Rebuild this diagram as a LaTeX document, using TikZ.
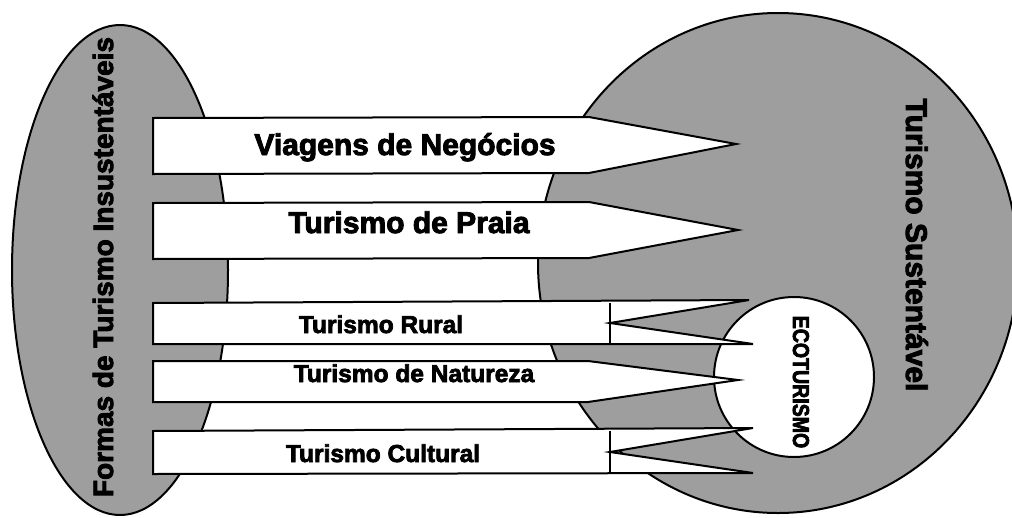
\documentclass[tikz,border=0pt]{standalone}
\usepackage{fontspec}
\setmainfont{Liberation Sans}[BoldFeatures={FakeBold=3}]
\newfontfamily\ecofont[FakeStretch=0.85,FakeBold=3]{Liberation Sans Bold}
\definecolor{shade}{RGB}{158,158,158}
\tikzset{
  blob/.style={draw=black, line width=2pt, fill=shade},
  band/.style={draw=black, line width=2pt, fill=white, line join=miter},
  bigtxt/.style={font=\bfseries\fontsize{30}{36}\selectfont, inner sep=0pt, anchor=base},
  smalltxt/.style={font=\bfseries\fontsize{24.5}{29}\selectfont, inner sep=0pt, anchor=base},
  sidetxt/.style={font=\bfseries\fontsize{28}{34}\selectfont, inner sep=0pt, anchor=base}
}
\begin{document}
\begin{tikzpicture}[x=1pt, y=-1pt]
\useasboundingbox (0,0) rectangle (1012,517);
\begin{scope}
\clip (0,0) rectangle (1012,517);
% left ellipse
\draw[blob] (120,270) ellipse [x radius=108, y radius=245];
% right big ellipse
\draw[blob] (778,263) ellipse [x radius=240, y radius=250];
\end{scope}
% ecoturismo circle
\draw[draw=black, line width=2pt, fill=white] (794,377) circle [radius=80];
% bands
\draw[band] (153,118) -- (589,117) -- (736,144) -- (589,173) -- (153,174) -- cycle;
\draw[band] (153,203) -- (589,202) -- (738,230) -- (589,258) -- (153,259) -- cycle;
\draw[band] (153,303) -- (749,300) -- (610,323) -- (753,344) -- (153,344) -- cycle;
\draw[line width=2pt] (610,303) -- (610,344);
\draw[band] (153,361) -- (588,361) -- (738,380) -- (588,402) -- (153,402) -- cycle;
\draw[band] (153,431) -- (753,428) -- (610,452) -- (753,473) -- (153,474) -- cycle;
\draw[line width=2pt] (610,431) -- (610,474);
% texts
\node[bigtxt] (viag) at (405,155) {Viagens de Negócios};
\node[bigtxt] (praia) at (409,233) {Turismo de Praia};
\node[smalltxt] (rural) at (381,333) {Turismo Rural};
\node[smalltxt] (nat) at (414,382) {Turismo de Natureza};
\node[smalltxt] (cult) at (383,462) {Turismo Cultural};
\node[sidetxt, rotate=90] (formas) at (113,267) {Formas de Turismo Insustentáveis};
\node[bigtxt, rotate=-90] (sust) at (906,245) {Turismo Sustentável};
\node[font=\ecofont\fontsize{23}{28}\selectfont, inner sep=0pt, anchor=base, rotate=-90] (eco) at (793,382) {ECOTURISMO};
\end{tikzpicture}
\end{document}
